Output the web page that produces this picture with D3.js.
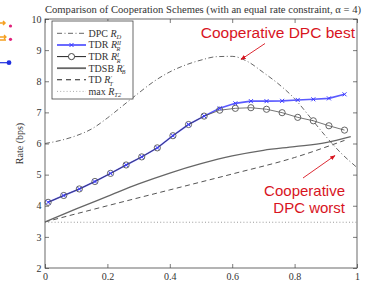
<!DOCTYPE html>
<html><head><meta charset="utf-8">
<script src="https://cdn.jsdelivr.net/npm/d3@7"></script>
<style>
html,body{margin:0;padding:0;background:#fff;}
svg{display:block;}
.serif{font-family:"Liberation Serif","DejaVu Serif",serif;}
</style></head>
<body>
<svg id="c" width="365" height="282"></svg>
<script>
// ---- data ----
const xTDR = [0.01,0.06,0.11,0.16,0.21,0.26,0.31,0.36,0.41,0.46,0.51,0.56,0.61,0.66,0.71,0.76,0.81,0.86,0.91,0.96];
const tdrII = [4.11,4.33,4.54,4.78,5.04,5.31,5.57,5.86,6.25,6.61,6.88,7.13,7.29,7.36,7.36,7.37,7.40,7.42,7.45,7.58];
const tdrI  = [4.11,4.33,4.54,4.78,5.04,5.31,5.57,5.86,6.25,6.61,6.88,7.07,7.13,7.15,7.10,6.99,6.84,6.73,6.57,6.43];
const xDPC = [0,0.05,0.1,0.15,0.2,0.25,0.3,0.35,0.4,0.45,0.5,0.55,0.6,0.65,0.7,0.75,0.8,0.85,0.9,0.95,1.0];
const dpc  = [6.00,6.10,6.25,6.47,6.82,7.22,7.62,8.00,8.30,8.52,8.68,8.79,8.80,8.63,8.28,7.90,7.44,6.84,6.23,5.68,5.23];
const xTDSB = [0,0.1,0.2,0.3,0.4,0.5,0.6,0.7,0.8,0.9,0.98];
const tdsb  = [3.48,3.90,4.30,4.70,5.05,5.35,5.60,5.78,5.90,6.03,6.22];
const xTD = [0,0.2,0.4,0.6,0.8,0.96];
const td  = [3.48,4.00,4.51,5.02,5.55,6.10];
const xMax = [0,1];
const maxRT2 = [3.47,3.47];
const xTicks = [0,0.2,0.4,0.6,0.8,1];
const yTicks = [2,3,4,5,6,7,8,9,10];
const title = "Comparison of Cooperation Schemes (with an equal rate constraint, \u03b1 = 4)";

// ---- layout ----
const svg = d3.select("#c");
const L=45,R=357,T=19,B=268;
const x = d3.scaleLinear().domain([0,1]).range([L,R]);
const y = d3.scaleLinear().domain([2,10]).range([B,T]);
const zip = (xs,ys)=>xs.map((v,i)=>[v,ys[i]]);

// left-side slide fragments
svg.append("path").attr("d","M0,23 L5,23 M3,21 L5,23 L3,25").attr("stroke","#f5a020").attr("stroke-width",1.5).attr("fill","none");
svg.append("circle").attr("cx",10.5).attr("cy",26).attr("r",1.6).attr("fill","#e0207a");
svg.append("path").attr("d","M0,37 L6,37 M0,40 L6,40 M4,35 L6,37 L4,39").attr("stroke","#f5a020").attr("stroke-width",1.3).attr("fill","none");
svg.append("circle").attr("cx",10.5).attr("cy",39.3).attr("r",1.6).attr("fill","#e0207a");
svg.append("line").attr("x1",0).attr("x2",9).attr("y1",62.7).attr("y2",62.7).attr("stroke","#2030e0").attr("stroke-width",1.2);
svg.append("circle").attr("cx",9).attr("cy",62.7).attr("r",2.4).attr("fill","#2030e0");

// title
svg.append("text").attr("class","serif").attr("x",(44+362)/2).attr("y",13)
  .attr("text-anchor","middle").attr("font-size",9.6).attr("fill","#333")
  .attr("textLength",316).attr("lengthAdjust","spacingAndGlyphs").text(title);

// axes
const gx = svg.append("g").attr("transform",`translate(0,${B})`)
  .call(d3.axisBottom(x).tickValues(xTicks).tickSize(-4).tickSizeOuter(0).tickPadding(5).tickFormat(d=>d===0||d===1?d3.format("d")(d):d3.format(".1f")(d)));
const gy = svg.append("g").attr("transform",`translate(${L},0)`)
  .call(d3.axisLeft(y).tickValues(yTicks).tickSize(-4).tickSizeOuter(0).tickPadding(3.5));
const gt = svg.append("g").attr("transform",`translate(0,${T})`)
  .call(d3.axisTop(x).tickValues(xTicks).tickSize(-4).tickSizeOuter(0).tickFormat(""));
const gr = svg.append("g").attr("transform",`translate(${R},0)`)
  .call(d3.axisRight(y).tickValues(yTicks).tickSize(-4).tickSizeOuter(0).tickFormat(""));
[gx,gy,gt,gr].forEach(g=>{
  g.select(".domain").remove();
  g.selectAll("line").attr("stroke","#444").attr("stroke-width",0.7);
  g.selectAll("text").attr("font-family","Liberation Serif, DejaVu Serif, serif").attr("font-size",10).attr("fill","#333");
});
svg.append("rect").attr("x",L).attr("y",T).attr("width",R-L).attr("height",B-T)
  .attr("fill","none").attr("stroke","#444").attr("stroke-width",0.8);

// y label
svg.append("text").attr("class","serif").attr("transform",`translate(23,${(T+B)/2}) rotate(-90)`)
  .attr("text-anchor","middle").attr("font-size",10).attr("fill","#333").text("Rate (bps)");

// lines
const smooth = d3.line().x(d=>x(d[0])).y(d=>y(d[1])).curve(d3.curveMonotoneX);
const straight = d3.line().x(d=>x(d[0])).y(d=>y(d[1]));
const plot = svg.append("g");
plot.append("path").attr("d",straight(zip(xMax,maxRT2))).attr("fill","none")
  .attr("stroke","#999").attr("stroke-width",1).attr("stroke-dasharray","1,2.2");
plot.append("path").attr("d",smooth(zip(xTD,td))).attr("fill","none")
  .attr("stroke","#555").attr("stroke-width",1).attr("stroke-dasharray","5,3.5");
plot.append("path").attr("d",smooth(zip(xTDSB,tdsb))).attr("fill","none")
  .attr("stroke","#666").attr("stroke-width",1.3);
plot.append("path").attr("d",smooth(zip(xDPC,dpc))).attr("fill","none")
  .attr("stroke","#555").attr("stroke-width",0.9).attr("stroke-dasharray","5,2.5,1,2.5");
plot.append("path").attr("d",straight(zip(xTDR,tdrII))).attr("fill","none")
  .attr("stroke","#5a5aff").attr("stroke-width",1.6);
plot.append("path").attr("d",straight(zip(xTDR,tdrI))).attr("fill","none")
  .attr("stroke","#333").attr("stroke-width",0.8).attr("opacity",0.85);
const xm = (g,px,py,s,col,w)=>g.append("path")
  .attr("d",`M${px-s},${py-s}L${px+s},${py+s}M${px-s},${py+s}L${px+s},${py-s}`)
  .attr("stroke",col).attr("stroke-width",w);
zip(xTDR,tdrI).forEach(d=>{
  plot.append("circle").attr("cx",x(d[0])).attr("cy",y(d[1])).attr("r",3.1)
    .attr("fill","none").attr("stroke","#555").attr("stroke-width",0.9);
});
zip(xTDR,tdrII).forEach(d=>xm(plot,x(d[0]),y(d[1]),2,"#3a3aff",1));

// legend
const lg = svg.append("g");
lg.append("rect").attr("x",52).attr("y",21).attr("width",81).attr("height",78)
  .attr("fill","#fff").attr("stroke","#444").attr("stroke-width",0.8);
const rowY = [33.3,45,56.6,68.2,79.8,91.4];
const lx1=57, lx2=86, tx=88.5;
function sample(i,stroke,w,dash){
  lg.append("line").attr("x1",lx1).attr("x2",lx2).attr("y1",rowY[i]).attr("y2",rowY[i])
    .attr("stroke",stroke).attr("stroke-width",w).attr("stroke-dasharray",dash||null);
}
sample(0,"#555",0.9,"5,2.5,1,2.5");
sample(1,"#5a5aff",1.8);
xm(lg,(lx1+lx2)/2,rowY[1],2,"#3a3aff",1);
sample(2,"#222",1);
lg.append("circle").attr("cx",(lx1+lx2)/2).attr("cy",rowY[2]).attr("r",3.1).attr("fill","#fff").attr("stroke","#333").attr("stroke-width",0.9);
sample(3,"#666",1.8);
sample(4,"#222",1.1,"5,4");
sample(5,"#aaa",1,"1,2.2");
const labels = [
  ["DPC ", "R", "D", null],
  ["TDR ", "R", "R", "II"],
  ["TDR ", "R", "R", "I"],
  ["TDSB ", "R", "B", "\u2032"],
  ["TD ", "R", "T", "\u2032"],
  ["max ", "R", "T2", null]
];
labels.forEach((l,i)=>{
  const t = lg.append("text").attr("class","serif").attr("x",tx).attr("y",rowY[i]+3.4)
    .attr("font-size",10).attr("fill","#333");
  t.append("tspan").text(l[0]);
  t.append("tspan").attr("font-style","italic").text(l[1]);
  if(l[3]){
    t.append("tspan").attr("font-size",6).attr("dy",-3).attr("font-style","italic").text(l[3]);
    t.append("tspan").attr("font-size",6).attr("dx",l[3].length>1?-4.5:-2.3).attr("dy",5.5).attr("font-style","italic").text(l[2]);
  } else {
    t.append("tspan").attr("font-size",6.5).attr("dy",2.3).attr("font-style","italic").text(l[2]);
  }
});

// annotations
const red="#d8141e";
const defs = svg.append("defs");
defs.append("marker").attr("id","ah").attr("viewBox","0 0 10 10").attr("refX",9).attr("refY",5)
  .attr("markerWidth",6).attr("markerHeight",6).attr("orient","auto")
  .append("path").attr("d","M0,1 L10,5 L0,9 Z").attr("fill",red);
svg.append("text").attr("x",355).attr("y",37.5).attr("text-anchor","end")
  .attr("font-family","Liberation Sans, Arial, sans-serif").attr("font-size",15.5).attr("fill",red)
  .text("Cooperative DPC best");
svg.append("line").attr("x1",265).attr("y1",43.5).attr("x2",241).attr("y2",59.5)
  .attr("stroke",red).attr("stroke-width",0.9).attr("marker-end","url(#ah)");
const worst = svg.append("text").attr("text-anchor","end")
  .attr("font-family","Liberation Sans, Arial, sans-serif").attr("font-size",15).attr("fill",red);
worst.append("tspan").attr("x",345).attr("y",195.5).text("Cooperative");
worst.append("tspan").attr("x",345).attr("y",213).text("DPC worst");
svg.append("line").attr("x1",303).attr("y1",178).attr("x2",335).attr("y2",155.5)
  .attr("stroke",red).attr("stroke-width",0.9).attr("marker-end","url(#ah)");
</script>
</body></html>
